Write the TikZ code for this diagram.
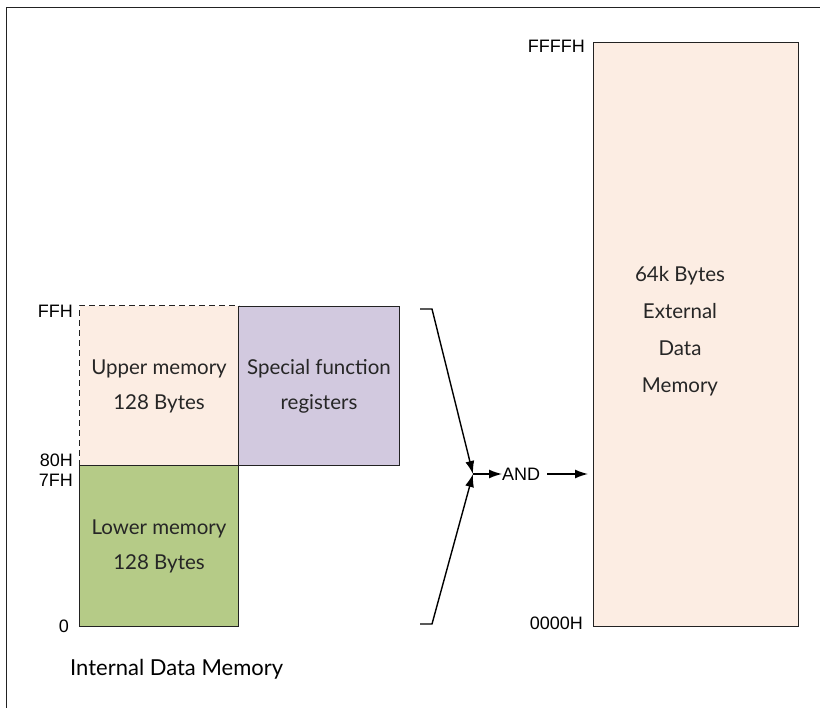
\documentclass[tikz,border=0pt]{standalone}
\usepackage{fontspec}
\setmainfont{Lato}
\newfontfamily\labelfont{Liberation Sans}
\usetikzlibrary{arrows.meta}
\definecolor{peach}{HTML}{FCEDE3}
\definecolor{lilac}{HTML}{D2C9DF}
\definecolor{olive}{HTML}{B5CB87}
\definecolor{edge}{HTML}{222222}
\tikzset{
  membox/.style={draw=edge, line width=1pt, inner sep=0pt, anchor=north west},
  boxtext/.style={align=center, font=\fontsize{20.5}{35}\selectfont, text=black!85},
  addr/.style={font=\labelfont\fontsize{18}{18}\selectfont, inner sep=0pt},
  conn/.style={line width=1.4pt, -{Latex[length=13pt,width=9pt]}},
}
\begin{document}
\begin{tikzpicture}[x=1pt,y=-1pt]
\useasboundingbox (0,0) rectangle (820,708);
% frame
\draw[edge, line width=1pt] (6,708) -- (6,7.5) -- (820,7.5);
% internal memory boxes
\node[membox, draw=none, fill=peach, minimum width=159pt, minimum height=159pt] (upper) at (79,306) {};
\node[membox, fill=lilac, minimum width=161pt, minimum height=159pt] (sfr) at (238,306) {};
\node[membox, fill=olive, minimum width=159pt, minimum height=161pt] (lower) at (79,465) {};
\draw[edge, line width=1pt, dash pattern=on 6pt off 4pt] (upper.south east) -- (upper.south west) -- (upper.north west) -- (upper.north east);
\node[boxtext] (uppert) at (upper.center) {Upper memory\\128 Bytes};
\node[boxtext] (sfrt) at (sfr.center) {Special function\\registers};
\node[boxtext] (lowert) at (lower.center) {Lower memory\\128 Bytes};
% address labels
\node[addr, anchor=base east] (ffh) at (73,318) {FFH};
\node[addr, anchor=base east] (h80) at (73,467) {80H};
\node[addr, anchor=base east] (h7f) at (73,487) {7FH};
\node[addr, anchor=base east] (h0) at (69,632) {0};
\node[font=\fontsize{22}{22}\selectfont, anchor=base west, inner sep=0pt] (idm) at (70,675) {Internal Data Memory};
% external memory
\node[membox, fill=peach, minimum width=205pt, minimum height=584pt] (ext) at (593,42) {};
\node[boxtext, font=\fontsize{20.5}{37}\selectfont] (extt) at (680,331) {64k Bytes\\External\\Data\\Memory};
\node[addr, anchor=base east] (ffffh) at (585,53) {FFFFH};
\node[addr, anchor=base east] (h0000) at (583,630) {0000H};
% brackets and AND
\coordinate (t1) at (420,309);
\coordinate (t2) at (432,309);
\coordinate (b1) at (420,624);
\coordinate (b2) at (432,624);
\coordinate (j) at (473,474);
\draw[conn] (t1) -- (t2) -- (j);
\draw[conn] (b1) -- (b2) -- (j);
\node[addr, anchor=west] (and) at (502,474) {AND};
\draw[conn] (j) -- (and.west);
\draw[conn, shorten >=5pt] ([xshift=7pt]and.east) -- (ext.west |- and);
\end{tikzpicture}
\end{document}
